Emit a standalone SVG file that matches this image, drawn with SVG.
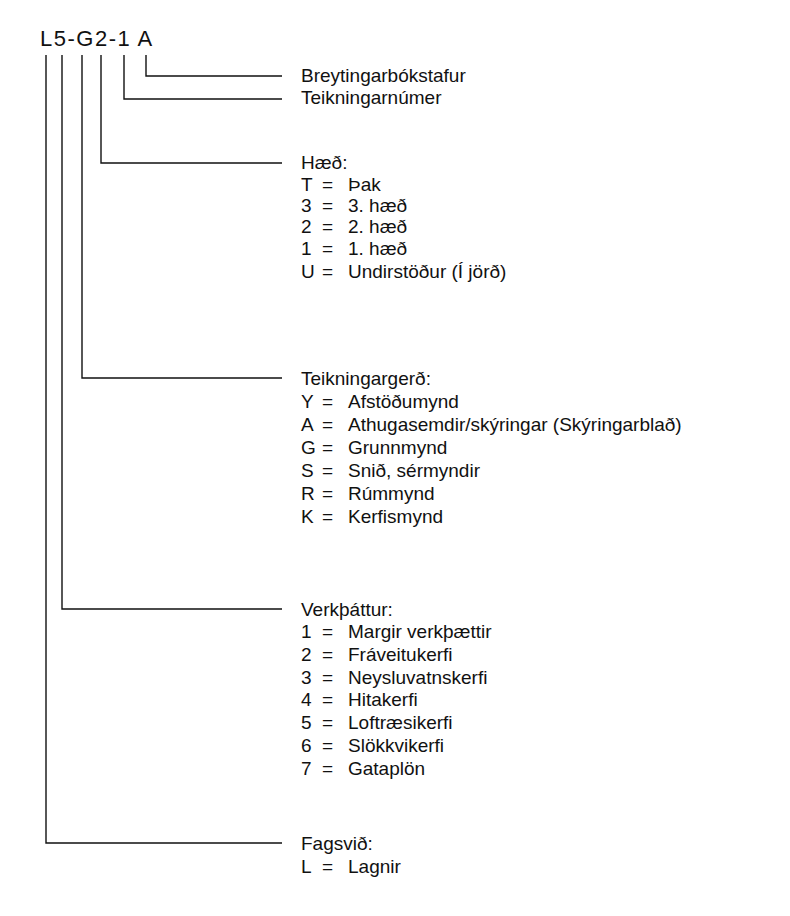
<svg xmlns="http://www.w3.org/2000/svg" width="790" height="916" viewBox="0 0 790 916">
<style>
text{font-family:"Liberation Sans",Arial,sans-serif;font-size:19px;fill:#111}
.t{font-size:22px;letter-spacing:1.5px}
.c{fill:none;stroke:#111;stroke-width:1.4}
</style>
<rect width="790" height="916" fill="#fff"/>
<g id="title"><text class="t" x="40" y="46">L5-G2-1 A</text></g>
<g id="connectors">
<path class="c" d="M146 55V76H282"/>
<path class="c" d="M124 55V99H282"/>
<path class="c" d="M101 55V163H282"/>
<path class="c" d="M82 55V378H282"/>
<path class="c" d="M62 55V609H282"/>
<path class="c" d="M46 55V843H282"/>
</g>
<g id="n-breyting"><text x="301" y="82">Breytingarbókstafur</text></g>
<g id="n-teikningarnumer"><text x="301" y="104">Teikningarnúmer</text></g>
<g id="n-haed">
<text x="301" y="169">Hæð:</text>
<text x="301" y="191">T</text><text x="322" y="191">=</text><text x="348" y="191">Þak</text>
<text x="301" y="212">3</text><text x="322" y="212">=</text><text x="348" y="212">3. hæð</text>
<text x="301" y="233">2</text><text x="322" y="233">=</text><text x="348" y="233">2. hæð</text>
<text x="301" y="255">1</text><text x="322" y="255">=</text><text x="348" y="255">1. hæð</text>
<text x="301" y="278">U</text><text x="322" y="278">=</text><text x="348" y="278">Undirstöður (Í jörð)</text>
</g>
<g id="n-gerd">
<text x="301" y="385">Teikningargerð:</text>
<text x="301" y="408">Y</text><text x="322" y="408">=</text><text x="348" y="408">Afstöðumynd</text>
<text x="301" y="431">A</text><text x="322" y="431">=</text><text x="348" y="431">Athugasemdir/skýringar (Skýringarblað)</text>
<text x="301" y="454">G</text><text x="322" y="454">=</text><text x="348" y="454">Grunnmynd</text>
<text x="301" y="477">S</text><text x="322" y="477">=</text><text x="348" y="477">Snið, sérmyndir</text>
<text x="301" y="500">R</text><text x="322" y="500">=</text><text x="348" y="500">Rúmmynd</text>
<text x="301" y="523">K</text><text x="322" y="523">=</text><text x="348" y="523">Kerfismynd</text>
</g>
<g id="n-verkthattur">
<text x="301" y="616">Verkþáttur:</text>
<text x="301" y="638">1</text><text x="322" y="638">=</text><text x="348" y="638">Margir verkþættir</text>
<text x="301" y="661">2</text><text x="322" y="661">=</text><text x="348" y="661">Fráveitukerfi</text>
<text x="301" y="684">3</text><text x="322" y="684">=</text><text x="348" y="684">Neysluvatnskerfi</text>
<text x="301" y="706">4</text><text x="322" y="706">=</text><text x="348" y="706">Hitakerfi</text>
<text x="301" y="729">5</text><text x="322" y="729">=</text><text x="348" y="729">Loftræsikerfi</text>
<text x="301" y="752">6</text><text x="322" y="752">=</text><text x="348" y="752">Slökkvikerfi</text>
<text x="301" y="775">7</text><text x="322" y="775">=</text><text x="348" y="775">Gataplön</text>
</g>
<g id="n-fagsvid">
<text x="301" y="850">Fagsvið:</text>
<text x="301" y="873">L</text><text x="322" y="873">=</text><text x="348" y="873">Lagnir</text>
</g>
</svg>
